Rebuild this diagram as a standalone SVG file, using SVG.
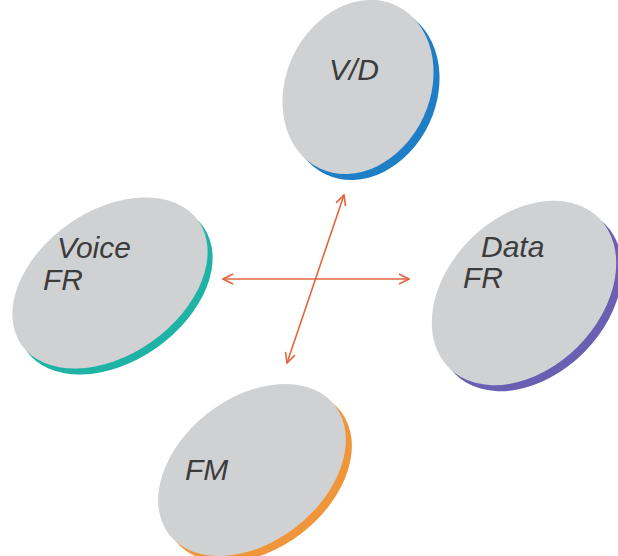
<svg xmlns="http://www.w3.org/2000/svg" width="618" height="556" viewBox="0 0 618 556">
<defs>
<style>
.top{fill:#d0d1d3}
.lbl{font-family:"Liberation Sans",Arial,sans-serif;font-style:italic;font-size:30px;fill:#3c3c3c}
.conn{stroke:#e2663f;stroke-width:1.6;fill:none}
</style>
<marker id="ah" viewBox="0 0 12 12" refX="11" refY="6" markerWidth="12" markerHeight="12" markerUnits="userSpaceOnUse" orient="auto-start-reverse">
<path d="M1,1 L11,6 L1,11" fill="none" stroke="#e2663f" stroke-width="1.6"/>
</marker>
</defs>
<rect width="618" height="556" fill="#ffffff"/>
<g id="vd">
<ellipse cx="364" cy="93" rx="90" ry="72" transform="rotate(-65 364 93)" fill="#1f7fc6"/>
<ellipse cx="358" cy="87" rx="90" ry="72" transform="rotate(-65 358 87)" class="top"/>
<text x="329" y="80" class="lbl">V/D</text>
</g>
<g id="voicefr">
<ellipse cx="115" cy="289" rx="108" ry="72" transform="rotate(-35 115 289)" fill="#1fb3a6"/>
<ellipse cx="110" cy="283" rx="108" ry="72" transform="rotate(-35 110 283)" class="top"/>
<text x="57" y="258" class="lbl">Voice</text>
<text x="43" y="290" class="lbl">FR</text>
</g>
<g id="datafr">
<ellipse cx="530" cy="299" rx="106" ry="76" transform="rotate(-45 530 299)" fill="#6a5fb3"/>
<ellipse cx="524" cy="293" rx="106" ry="76" transform="rotate(-45 524 293)" class="top"/>
<text x="481" y="257" class="lbl">Data</text>
<text x="463" y="288" class="lbl">FR</text>
</g>
<g id="fm">
<ellipse cx="258" cy="476" rx="105" ry="72" transform="rotate(-38 258 476)" fill="#f0953a"/>
<ellipse cx="252" cy="470" rx="105" ry="72" transform="rotate(-38 252 470)" class="top"/>
<text x="185" y="480" class="lbl">FM</text>
</g>
<g id="connectors">
<line x1="223" y1="279" x2="409" y2="279" class="conn" marker-start="url(#ah)" marker-end="url(#ah)"/>
<line x1="287" y1="363" x2="344" y2="195" class="conn" marker-start="url(#ah)" marker-end="url(#ah)"/>
</g>
</svg>
